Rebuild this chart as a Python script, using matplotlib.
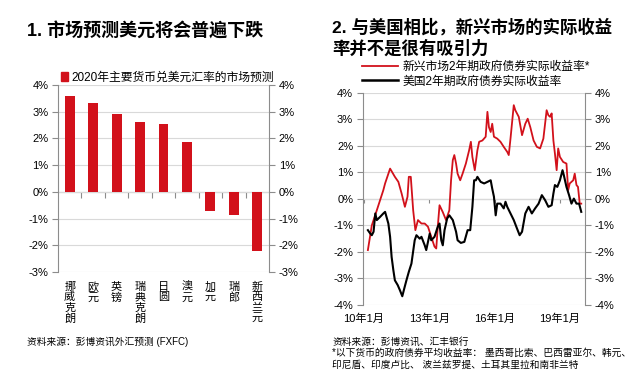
import numpy as np
import matplotlib.pyplot as plt
from matplotlib.lines import Line2D
from matplotlib.patches import Patch

plt.rcParams['font.family'] = ['Liberation Sans', 'Noto Sans CJK SC', 'DejaVu Sans']

RED = '#D2111B'
GRID = '#D9D9D9'
SPINE = '#8C8C8C'

# chart 1: 2020 market forecast of major currencies vs USD
currencies = ['挪威克朗', '欧元', '英镑', '瑞典克朗', '日圆', '澳元', '加元', '瑞郎', '新西兰元']
forecast = [3.6, 3.34, 2.93, 2.63, 2.55, 1.88, -0.70, -0.87, -2.2]

# chart 2: 2y real government bond yields (decimal years)
em_t = [2010.18, 2010.36, 2010.59, 2010.89, 2010.97, 2011.20, 2011.42, 2011.58, 2011.73, 2011.88,
        2012.00, 2012.06, 2012.15, 2012.26, 2012.36, 2012.48, 2012.64, 2012.79, 2012.94, 2013.09,
        2013.24, 2013.32, 2013.39, 2013.47, 2013.62, 2013.77, 2013.92, 2014.00, 2014.08, 2014.15,
        2014.23, 2014.30, 2014.42, 2014.53, 2014.68, 2014.83, 2014.91, 2014.98, 2015.09, 2015.21,
        2015.29, 2015.44, 2015.59, 2015.67, 2015.74, 2015.82, 2015.89, 2015.97, 2016.12, 2016.27,
        2016.42, 2016.58, 2016.65, 2016.73, 2016.88, 2016.95, 2017.11, 2017.26, 2017.41, 2017.52,
        2017.64, 2017.79, 2017.94, 2018.09, 2018.24, 2018.39, 2018.47, 2018.55, 2018.62, 2018.70,
        2018.77, 2018.85, 2018.92, 2019.00, 2019.15, 2019.30, 2019.38, 2019.45, 2019.61, 2019.68,
        2019.76, 2019.83, 2019.91, 2019.98]
em_yield = [-1.93, -1.0, -0.43, 0.33, 0.58, 1.14, 0.83, 0.64, 0.2, -0.3,
            0.08, 0.83, 0.83, -0.43, -1.18, -0.8, -0.93, -0.93, -1.05, -1.43,
            -1.8, -1.87, -1.05, -0.24, -0.5, -0.8, -0.43, 0.7, 1.46, 1.65,
            1.33, 0.95, 0.7, 0.95, 1.33, 1.83, 2.15, 1.58, 1.08, 1.83,
            2.15, 2.2, 2.34, 3.28, 2.7, 2.52, 2.83, 2.34, 2.27, 2.15,
            1.96, 1.77, 1.65, 2.27, 3.53, 3.34, 3.09, 2.4, 2.83, 3.02,
            2.7, 2.2, 1.96, 1.9, 2.27, 3.34, 3.15, 3.09, 3.22, 2.2,
            1.71, 1.08, 1.9, 1.58, 1.39, 1.33, 0.33, 0.58, 0.7, 0.95,
            0.52, 0.45, -0.18, -0.18]

us_t = [2010.18, 2010.29, 2010.36, 2010.44, 2010.52, 2010.59, 2010.74, 2010.89, 2010.97, 2011.12,
        2011.20, 2011.27, 2011.35, 2011.42, 2011.55, 2011.65, 2011.76, 2011.85, 2011.95, 2012.06,
        2012.18, 2012.33, 2012.41, 2012.56, 2012.64, 2012.79, 2012.86, 2013.02, 2013.09, 2013.24,
        2013.39, 2013.47, 2013.55, 2013.62, 2013.70, 2013.82, 2013.92, 2014.08, 2014.23, 2014.30,
        2014.45, 2014.61, 2014.76, 2014.88, 2014.98, 2015.06, 2015.14, 2015.21, 2015.36, 2015.52,
        2015.67, 2015.82, 2015.89, 2015.97, 2016.05, 2016.12, 2016.27, 2016.42, 2016.50, 2016.58,
        2016.73, 2016.88, 2017.03, 2017.15, 2017.26, 2017.41, 2017.56, 2017.71, 2017.86, 2018.02,
        2018.17, 2018.32, 2018.47, 2018.62, 2018.70, 2018.77, 2018.88, 2019.00, 2019.12, 2019.18,
        2019.30, 2019.42, 2019.53, 2019.64, 2019.76, 2019.88, 2019.98]
us_yield = [-1.18, -1.31, -1.37, -1.24, -0.55, -0.8, -0.68, -0.55, -0.49, -0.93,
            -1.43, -2.19, -2.69, -3.07, -3.25, -3.44, -3.67, -3.38, -3.07, -2.75,
            -2.44, -1.56, -1.37, -1.5, -1.43, -1.75, -1.93, -1.31, -1.56, -1.43,
            -1.05, -0.93, -1.56, -1.75, -1.18, -0.74, -0.62, -0.8, -1.24, -1.56,
            -1.66, -1.62, -1.18, -1.18, -0.3, 0.7, 0.7, 0.83, 0.64, 0.58,
            0.64, 0.7, 0.39, 0.08, -0.62, -0.18, -0.18, -0.36, -0.11, -0.3,
            -0.55, -0.8, -1.12, -1.37, -1.24, -0.55, -0.3, -0.55, -0.36, -0.18,
            0.14, -0.05, -0.3, -0.24, 0.2, 0.52, 0.45, 0.7, 1.08, 0.89,
            0.45, 0.14, -0.18, 0.01, -0.18, -0.18, -0.49]

year_ticks = [2010, 2013, 2016, 2019]
year_labels = ['10年1月', '13年1月', '16年1月', '19年1月']


def pct(v, pos):
    return '%d%%' % v


def style_y(ax):
    ax.yaxis.set_major_formatter(plt.FuncFormatter(pct))
    ax.tick_params(axis='y', which='both', left=True, right=True, labelleft=True, labelright=True,
                   direction='out', length=4, color=SPINE, labelsize=8, pad=3)
    ax.grid(axis='y', color=GRID, lw=0.8)
    ax.set_axisbelow(True)
    for s in ['top', 'bottom']:
        ax.spines[s].set_visible(False)
    for s in ['left', 'right']:
        ax.spines[s].set_color(SPINE)
        ax.spines[s].set_linewidth(0.8)


fig = plt.figure(figsize=(6.4, 3.84), dpi=100)

# ---- left chart
ax1 = fig.add_axes([0.0906, 0.2917, 0.3297, 0.4869])
ax1.bar(range(len(currencies)), forecast, width=0.42, color=RED, zorder=3)
ax1.set_xlim(-0.5, len(currencies) - 0.5)
ax1.set_ylim(-3, 4)
ax1.set_yticks(range(-3, 5))
style_y(ax1)
ax1.set_xticks(range(len(currencies)))
ax1.set_xticklabels(['\n'.join(c) for c in currencies], fontsize=8, linespacing=1.05, va='top')
ax1.tick_params(axis='x', length=0, pad=7)
sec1 = ax1.secondary_xaxis(0, transform=ax1.transData)
sec1.set_xticks(np.arange(0.5, len(currencies) - 1, 1))
sec1.set_xticklabels([])
sec1.tick_params(direction='out', length=4, color=SPINE)
sec1.spines['bottom'].set_color(SPINE)
sec1.spines['bottom'].set_linewidth(0.8)

ax1.legend(handles=[Patch(color=RED, label='2020年主要货币兑美元汇率的市场预测')],
           loc='center left', bbox_to_anchor=(0.095, 0.797), bbox_transform=fig.transFigure,
           frameon=False, fontsize=8.5, handlelength=0.6, handleheight=0.8, handletextpad=0.3,
           borderaxespad=0, borderpad=0)

fig.text(0.042, 0.917, '1. 市场预测美元将会普遍下跌', fontsize=13, fontweight='bold', va='center')
fig.text(0.042, 0.109, '资料来源：彭博资讯外汇预测 (FXFC)', fontsize=7, va='center')

# ---- right chart
ax2 = fig.add_axes([0.567, 0.2057, 0.347, 0.5529])
ax2.plot(em_t, em_yield, color=RED, lw=1.3, zorder=3)
ax2.plot(us_t, us_yield, color='black', lw=1.5, zorder=4)
ax2.set_xlim(2009.95, 2020.15)
ax2.set_ylim(-4, 4)
ax2.set_yticks(range(-4, 5))
style_y(ax2)
ax2.set_xticks(year_ticks)
ax2.set_xticklabels(year_labels, fontsize=8)
ax2.tick_params(axis='x', length=0, pad=6)
sec2 = ax2.secondary_xaxis(0, transform=ax2.transData)
sec2.set_xticks(year_ticks)
sec2.set_xticklabels([])
sec2.tick_params(direction='out', length=3, color=SPINE)
sec2.spines['bottom'].set_color(SPINE)
sec2.spines['bottom'].set_linewidth(0.8)

ax2.legend(handles=[Line2D([], [], color=RED, lw=1.3, label='新兴市场2年期政府债券实际收益率*'),
                    Line2D([], [], color='black', lw=1.8, label='美国2年期政府债券实际收益率')],
           loc='upper left', bbox_to_anchor=(0.566, 0.842), bbox_transform=fig.transFigure,
           frameon=False, fontsize=8.5, handlelength=3.0, handletextpad=0.4,
           labelspacing=0.25, borderaxespad=0, borderpad=0)

fig.text(0.519, 0.93, '2. 与美国相比，新兴市场的实际收益', fontsize=12.5,
         fontweight='bold', va='center')
fig.text(0.519, 0.875, '率并不是很有吸引力', fontsize=12.5, fontweight='bold', va='center')
fig.text(0.519, 0.109, '资料来源：彭博资讯、汇丰银行', fontsize=7, va='center')
fig.text(0.519, 0.080, '*以下货币的政府债券平均收益率： 墨西哥比索、巴西雷亚尔、韩元、', fontsize=7, va='center')
fig.text(0.519, 0.050, '印尼盾、印度卢比、 波兰兹罗提、土耳其里拉和南非兰特', fontsize=7, va='center')

fig.savefig('out.png', dpi=100)
